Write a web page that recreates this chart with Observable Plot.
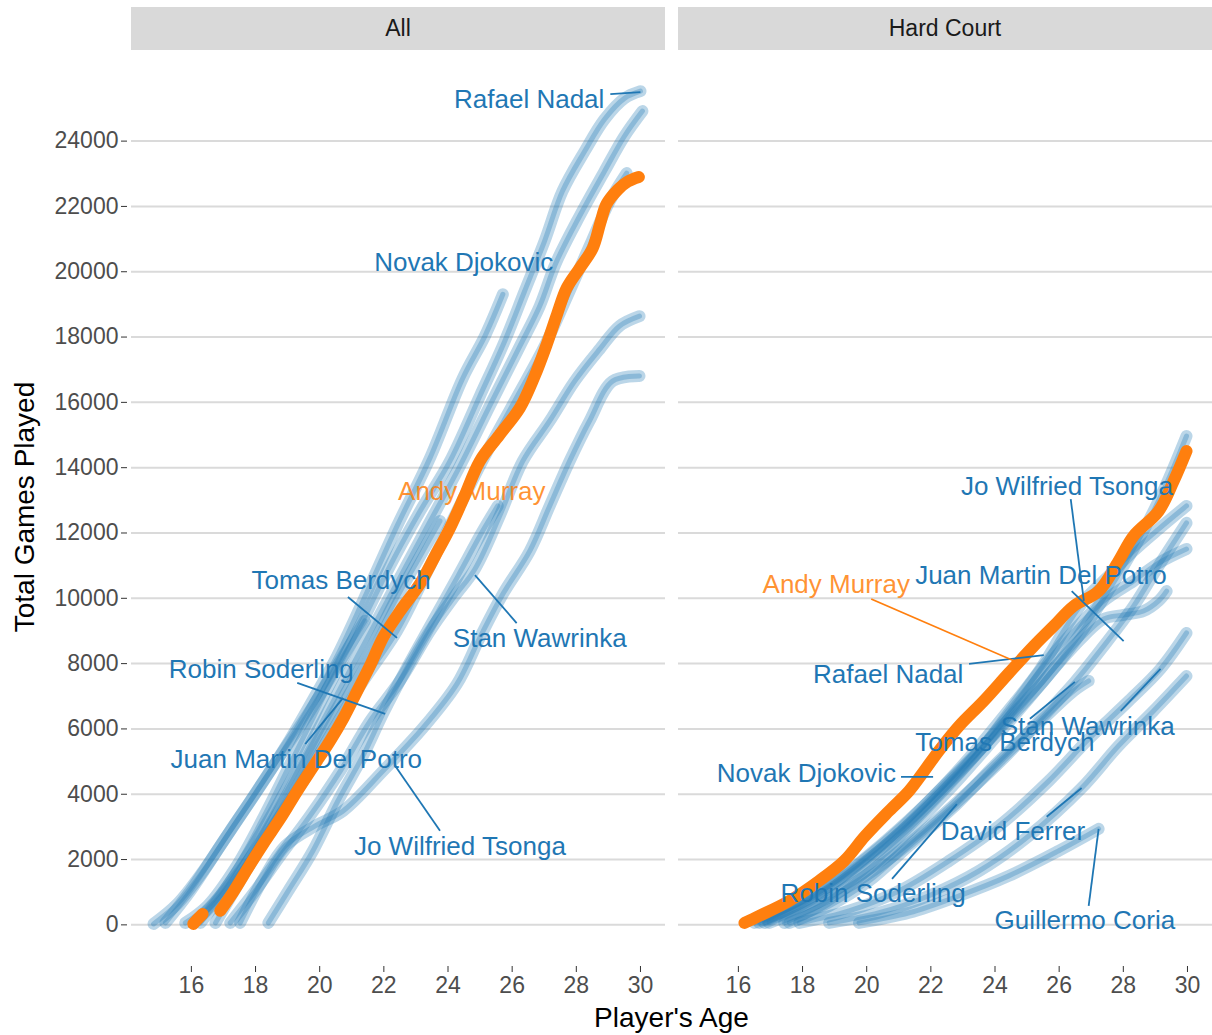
<!DOCTYPE html>
<html>
<head>
<meta charset="utf-8">
<script src="https://cdn.jsdelivr.net/npm/d3@7"></script>
<script src="https://cdn.jsdelivr.net/npm/@observablehq/plot@0.6"></script>
<style>
  html, body { margin: 0; padding: 0; background: #fff; }
  #wrap { position: relative; width: 1212px; height: 1035px; font-family: "Liberation Sans", Arial, Helvetica, sans-serif; overflow: hidden; }
  #wrap svg { position: absolute; left: 0; top: 0; }
  .strip { position: absolute; top: 7px; height: 43px; line-height: 43px; background: #d9d9d9; color: #1a1a1a; font-size: 23px; text-align: center; }
  #ytitle { position: absolute; left: -175px; top: 490px; width: 400px; height: 34px; line-height: 34px; text-align: center; font-size: 28px; color: #000; transform: rotate(-90deg); transform-origin: 50% 50%; }
  #xtitle { position: absolute; left: 131px; width: 1081px; top: 1002px; line-height: 32px; text-align: center; font-size: 28px; color: #000; }
</style>
</head>
<body>
<div id="wrap">
  <div id="plot"></div>
  <div class="strip" style="left:131px;width:534px">All</div>
  <div class="strip" style="left:678px;width:534px">Hard Court</div>
  <div id="ytitle">Total Games Played</div>
  <div id="xtitle">Player's Age</div>
</div>
<script>
const ALL = "All", HARD = "Hard Court";
const facets = [ALL, HARD];
const xTicks = [16, 18, 20, 22, 24, 26, 28, 30];
const yTicks = [0, 2000, 4000, 6000, 8000, 10000, 12000, 14000, 16000, 18000, 20000, 22000, 24000];

// ---- "All" panel: [age, total games] ----
const murrayAll = [[16.06,30],[16.2,180],[16.35,330],[16.6,null],[16.9,430],[17.3,1000],[17.8,1800],[18.24,2480],[18.8,3300],[19.3,4100],[19.8,4850],[20.32,5630],[20.75,6350],[21.17,7160],[21.6,8000],[21.97,8790],[22.5,9600],[23.12,10440],[23.6,11300],[24.06,12150],[24.5,13100],[24.99,14200],[25.6,15000],[26.24,15830],[26.7,16800],[27.08,17780],[27.4,18700],[27.7,19500],[28.1,20100],[28.51,20720],[28.75,21500],[28.94,22070],[29.3,22520],[29.6,22760],[29.95,22900]];
const nadalAll = [[15.81,60],[16.50,580],[17.37,1740],[18.24,3280],[19.48,5720],[20.32,7380],[21.26,9150],[22.19,10990],[23.13,12670],[24.06,14200],[24.99,16190],[25.77,17880],[26.39,19410],[27.01,20940],[27.57,22470],[28.26,23690],[28.88,24670],[29.50,25310],[30.00,25530]];
const djokovicAll = [[14.82,30],[15.56,640],[16.37,1650],[17.21,2880],[18.05,4100],[18.99,5540],[19.77,6860],[20.54,8230],[21.35,9920],[22.41,12210],[23.44,14300],[24.46,16740],[25.15,18030],[25.71,19310]];
const ferrerAll = [[16.09,60],[16.90,890],[17.84,2270],[18.93,4100],[20.01,6090],[21.10,8080],[22.19,10070],[23.28,12060],[24.37,14050],[25.30,15890],[26.24,17720],[26.86,18950],[27.36,20260],[28.10,21700],[28.88,23080],[29.50,24150],[30.06,24920]];
const berdychAll = [[16.75,60],[17.52,1350],[18.46,2880],[19.39,4250],[20.32,5790],[21.26,7320],[22.41,9000],[23.28,10680],[24.21,12520],[25.15,14360],[26.08,16040],[27.01,17720],[27.79,19410],[28.41,20780],[29.04,22160],[29.57,23020]];
const wawrinkaAll = [[17.21,60],[17.99,1040],[18.77,2110],[19.70,3340],[20.64,4710],[21.57,6240],[22.50,7470],[23.44,9000],[24.21,10070],[24.84,10900],[25.61,12520],[26.33,14200],[27.17,15430],[27.95,16650],[28.73,17630],[29.35,18340],[29.97,18640]];
const tsongaAll = [[17.52,60],[18.21,1350],[18.93,2420],[19.86,3030],[20.73,3490],[21.97,4710],[23.22,6030],[24.28,7380],[24.99,8790],[25.71,10130],[26.55,11450],[27.17,12830],[27.79,14200],[28.41,15430],[29.13,16650],[29.97,16810]];
const soderlingAll = [[18.40,60],[19.02,1040],[19.79,2270],[20.57,3800],[21.35,5180],[21.97,6460],[22.75,7930],[23.53,9310],[24.31,10680],[25.08,12060],[25.55,12830]];
const delpotroAll = [[16.28,60],[17.06,1040],[17.99,2270],[18.93,3800],[19.86,5480],[20.73,6950],[21.57,8390],[22.35,9920],[23.13,11290],[23.75,12370]];
const coriaAll = [[15.19,60],[15.97,1040],[16.90,2420],[17.84,3800],[18.77,5180],[19.70,6550],[20.64,8080],[21.41,9310]];

// ---- "Hard Court" panel ----
const murrayHard = [[16.19,60],[16.65,275],[17.59,735],[18.52,1350],[19.30,1960],[19.95,2720],[20.70,3490],[21.32,4100],[21.79,4710],[22.25,5330],[22.88,6090],[23.65,6860],[24.43,7710],[25.21,8540],[25.83,9150],[26.45,9760],[27.23,10220],[27.85,11140],[28.32,11910],[29.10,12670],[29.57,13590],[29.97,14510]];
const djokovicHard = [[16.50,60],[17.59,490],[18.83,1190],[20.08,2110],[21.16,3030],[22.25,4100],[23.34,5170],[24.43,6310],[25.52,7470],[26.45,8630],[27.23,9760],[28.01,10990],[28.79,12370],[29.41,13650],[29.97,14970]];
const tsongaHard = [[16.65,60],[17.74,580],[18.83,1190],[19.92,2020],[21.01,2940],[22.10,3950],[23.19,5110],[24.28,6400],[25.37,7770],[26.14,9000],[26.77,9920],[27.54,10680],[28.32,11450],[29.10,12120],[29.97,12830]];
const berdychHard = [[16.96,60],[18.05,490],[19.30,1100],[20.54,1900],[21.79,2880],[23.03,3950],[24.28,5110],[25.37,6240],[26.49,7440],[27.39,8540],[28.32,9760],[29.10,10990],[29.97,12310]];
const nadalHard = [[16.81,60],[17.90,580],[19.14,1350],[20.39,2270],[21.48,3240],[22.57,4350],[23.65,5480],[24.59,6700],[25.52,7930],[26.45,9000],[27.39,9920],[28.32,10530],[29.10,11080],[29.97,11510]];
const delpotroHard = [[17.43,60],[18.52,580],[19.61,1350],[20.70,2270],[21.79,3340],[22.88,4470],[23.97,5690],[25.05,6920],[25.99,8020],[26.77,8850],[27.39,9370],[28.01,9490],[28.63,9610],[29.10,9920],[29.35,10220]];
const soderlingHard = [[17.59,60],[18.83,580],[20.08,1350],[21.32,2420],[22.81,3700],[24.12,5020],[25.37,6180],[26.45,7160],[26.92,7470]];
const wawrinkaHard = [[17.90,60],[19.45,430],[21.01,1040],[22.57,1960],[24.12,3030],[25.68,4410],[26.92,5690],[28.17,6860],[29.16,7840],[29.97,8940]];
const ferrerHard = [[18.83,60],[20.39,370],[21.94,890],[23.50,1650],[25.05,2720],[26.70,4190],[27.85,5480],[28.94,6550],[29.97,7620]];
const coriaHard = [[19.76,60],[21.32,370],[22.88,890],[24.43,1500],[25.99,2270],[27.23,2940]];

// ---- labels: [name, text age, text games, leader from age, from games, leader to age, to games] ----
const labelsAll = [
  ["Rafael Nadal", 26.53, 25280, 29.06, 25440, 30.0, 25500],
  ["Novak Djokovic", 24.49, 20290, null, null, null, null],
  ["Andy Murray", 24.74, 13280, null, null, null, null],
  ["Tomas Berdych", 20.67, 10530, 20.88, 10040, 22.41, 8790],
  ["Stan Wawrinka", 26.86, 8750, 26.14, 9240, 24.84, 10710],
  ["Robin Soderling", 18.18, 7810, 19.30, 7410, 22.04, 6460],
  ["Juan Martin Del Potro", 19.27, 5050, 19.55, 5540, 20.73, 6950],
  ["Jo Wilfried Tsonga", 24.37, 2390, 23.75, 2880, 22.35, 4870]
];
const labelsHard = [
  ["Jo Wilfried Tsonga", 26.24, 13410, 26.36, 13040, 26.77, 9920],
  ["Juan Martin Del Potro", 25.43, 10680, 26.39, 10220, 28.01, 8690],
  ["Andy Murray", 19.05, 10410, 20.14, 9980, 24.74, 8020],
  ["Rafael Nadal", 20.67, 7650, 23.19, 7990, 25.52, 8260],
  ["Stan Wawrinka", 26.89, 6060, 27.92, 6550, 29.16, 7840],
  ["Tomas Berdych", 24.31, 5570, 25.09, 6310, 26.49, 7440],
  ["Novak Djokovic", 18.12, 4620, 21.07, 4530, 22.07, 4530],
  ["David Ferrer", 24.56, 2850, 25.61, 3310, 26.70, 4190],
  ["Robin Soderling", 20.20, 950, 20.79, 1410, 22.81, 3700],
  ["Guillermo Coria", 26.80, 120, 26.92, 580, 27.23, 2940]
];

const blue = "#1f77b4", orange = "#ff7f0e";

const blueTracks = [
  ["Rafael Nadal", ALL, nadalAll], ["Novak Djokovic", ALL, djokovicAll], ["David Ferrer", ALL, ferrerAll],
  ["Tomas Berdych", ALL, berdychAll], ["Stan Wawrinka", ALL, wawrinkaAll], ["Jo Wilfried Tsonga", ALL, tsongaAll],
  ["Robin Soderling", ALL, soderlingAll], ["Juan Martin Del Potro", ALL, delpotroAll], ["Guillermo Coria", ALL, coriaAll],
  ["Novak Djokovic", HARD, djokovicHard], ["Jo Wilfried Tsonga", HARD, tsongaHard], ["Tomas Berdych", HARD, berdychHard],
  ["Rafael Nadal", HARD, nadalHard], ["Juan Martin Del Potro", HARD, delpotroHard], ["Robin Soderling", HARD, soderlingHard],
  ["Stan Wawrinka", HARD, wawrinkaHard], ["David Ferrer", HARD, ferrerHard], ["Guillermo Coria", HARD, coriaHard]
];
const murrayTracks = [["Andy Murray", ALL, murrayAll], ["Andy Murray", HARD, murrayHard]];

const toRows = (list) => list.flatMap(([player, court, pts]) =>
  pts.map(([age, games]) => ({player, court, key: player + "|" + court, age, games})));
const blueRows = toRows(blueTracks);
const murrayRows = toRows(murrayTracks);

const labelRows = [[ALL, labelsAll], [HARD, labelsHard]].flatMap(([court, arr]) =>
  arr.map(([name, tx, ty, x1, y1, x2, y2]) => ({court, name, tx, ty, x1, y1, x2, y2})));
const isMurray = d => d.name === "Andy Murray";
const linkRows = labelRows.filter(d => d.x1 != null);

const chart = Plot.plot({
  width: 1212,
  height: 1035,
  marginTop: 50,
  marginBottom: 69,
  marginLeft: 131,
  marginRight: 0,
  style: {fontFamily: "'Liberation Sans', Arial, Helvetica, sans-serif", background: "transparent"},
  x: {domain: [14.133, 30.78]},
  y: {domain: [-1275, 26775]},
  fx: {domain: facets, paddingInner: 0.024, paddingOuter: 0, axis: null},
  marks: [
    Plot.gridY(yTicks, {stroke: "#dadada", strokeWidth: 2, strokeOpacity: 1}),
    Plot.axisY(yTicks, {tickFormat: "d", tickSize: 6, tickPadding: 3, dx: -4, fontSize: 23, fill: "#4d4d4d", stroke: "#333", label: null}),
    Plot.axisX(xTicks, {tickSize: 6, tickPadding: 4, fontSize: 23, fill: "#4d4d4d", stroke: "#333", label: null}),
    Plot.line(blueRows, {x: "age", y: "games", z: "key", fx: "court", stroke: blue, strokeWidth: 12, strokeOpacity: 0.3, strokeLinecap: "round", strokeLinejoin: "round", curve: "catmull-rom"}),
    Plot.line(blueRows, {x: "age", y: "games", z: "key", fx: "court", stroke: blue, strokeWidth: 5, strokeOpacity: 0.3, strokeLinecap: "round", strokeLinejoin: "round", curve: "catmull-rom"}),
    Plot.line(murrayRows, {x: "age", y: "games", z: "key", fx: "court", stroke: orange, strokeWidth: 12, strokeLinecap: "round", strokeLinejoin: "round", curve: "catmull-rom"}),
    Plot.link(linkRows.filter(d => !isMurray(d)), {x1: "x1", y1: "y1", x2: "x2", y2: "y2", fx: "court", stroke: blue, strokeWidth: 1.8}),
    Plot.link(linkRows.filter(isMurray), {x1: "x1", y1: "y1", x2: "x2", y2: "y2", fx: "court", stroke: orange, strokeWidth: 1.8}),
    Plot.text(labelRows.filter(d => !isMurray(d)), {x: "tx", y: "ty", text: "name", fx: "court", fill: blue, fontSize: 26}),
    Plot.text(labelRows.filter(isMurray), {x: "tx", y: "ty", text: "name", fx: "court", fill: orange, fillOpacity: 0.85, fontSize: 26})
  ]
});
document.getElementById("plot").appendChild(chart);
</script>
</body>
</html>
